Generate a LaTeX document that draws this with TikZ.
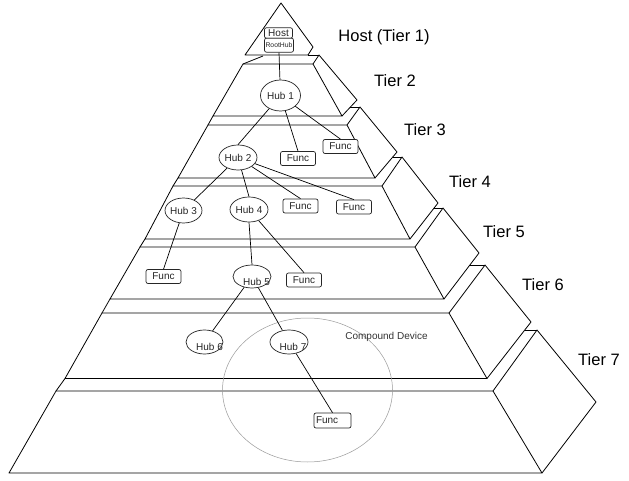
\documentclass[tikz,border=0pt]{standalone}
\usepackage{fontspec}
\setmainfont{Liberation Sans}
\usetikzlibrary{shapes.geometric}
\begin{document}
\begin{tikzpicture}[x=1pt,y=-1pt,
  edge/.style={line width=0.8pt, black, line join=round},
  conn/.style={line width=0.7pt, black},
  hub/.style={ellipse, draw=black!85, line width=0.7pt, inner sep=0pt, fill=white},
  hubtext/.style={font=\fontsize{10}{12}\selectfont, inner sep=0pt, text=black!85},
  func/.style={rectangle, rounded corners=2pt, draw=black!85, line width=0.7pt, inner sep=0pt,
    minimum width=35pt, minimum height=14pt, font=\fontsize{10}{12}\selectfont, fill=white, text=black!85},
  hostbox/.style={rectangle, rounded corners=2pt, draw=black!85, line width=0.7pt, inner sep=0pt, fill=white, text=black!85},
  tier/.style={font=\fontsize{16.5}{18}\selectfont, inner sep=0pt},
]
\useasboundingbox (0,0) rectangle (629,481);
\fill[white] (0,0) rectangle (629,481);

% Tier 1
\draw[edge] (245,55) -- (281,3) -- (313,47) -- (308,55) -- cycle;
% Tier 2
\draw[edge] (243,64) -- (313,64) -- (342,116) -- (213,116) -- cycle;
\draw[edge] (313,64) -- (319,55) -- (357,100) -- (342,116);
\draw[edge] (243,64) -- (263,56);
\draw[edge] (308,55) -- (319,55);
% Tier 3
\draw[edge] (208,125) -- (347,125) -- (375,178) -- (178,178) -- cycle;
\draw[edge] (347,125) -- (360,107) -- (397,152) -- (375,178);
\draw[edge] (208,125) -- (213,116);
\draw[edge] (350.4,107) -- (360,107);
% Tier 4
\draw[edge] (173,186) -- (382,186) -- (410,239) -- (145,239) -- cycle;
\draw[edge] (382,186) -- (402,157) -- (438,203) -- (410,239);
\draw[edge] (173,186) -- (178,178);
\draw[edge] (392.8,157) -- (402,157);
% Tier 5
\draw[edge] (140,247) -- (415,247) -- (444,299) -- (110,299) -- cycle;
\draw[edge] (415,247) -- (443,208) -- (479,253) -- (444,299);
\draw[edge] (140,247) -- (145,239);
\draw[edge] (434.1,208) -- (443,208);
% Tier 6
\draw[edge] (102,313) -- (449,313) -- (487,378.5) -- (65,378.5) -- cycle;
\draw[edge] (449,313) -- (485,265) -- (531,322) -- (487,378.5);
\draw[edge] (102,313) -- (110,299);
\draw[edge] (470,265) -- (485,265);
% Tier 7
\draw[edge] (56,391) -- (493,391) -- (542,473) -- (9,473) -- cycle;
\draw[edge] (493,391) -- (537,330) -- (596,402) -- (542,473);
\draw[edge] (56,391) -- (65,378.5);
\draw[edge] (524.7,330) -- (537,330);

% Tier labels
\node[tier] (t1) at (384,37) {Host (Tier 1)};
\node[tier] (t2) at (395,81) {Tier 2};
\node[tier] (t3) at (425,130) {Tier 3};
\node[tier] (t4) at (470,182) {Tier 4};
\node[tier] (t5) at (504,232) {Tier 5};
\node[tier] (t6) at (543,285) {Tier 6};
\node[tier] (t7) at (599,360) {Tier 7};

% Compound device
\node[ellipse, draw=black!40, line width=0.5pt, minimum width=170pt, minimum height=144pt, inner sep=0pt] (cd) at (307.5,390) {};
\node[font=\fontsize{10}{12}\selectfont, text=black!80, inner sep=0pt] (cdt) at (386.5,337) {Compound Device};

% Host
\node[hostbox, minimum width=28pt, minimum height=10.5pt, font=\fontsize{10}{10}\selectfont] (host) at (278.5,33) {Host};
\node[hostbox, minimum width=29pt, minimum height=14pt, font=\fontsize{6.8}{7}\selectfont] (root) at (279,45.2) {RootHub};

% Hubs
\node[hub, minimum width=40pt, minimum height=31pt] (hub1) at (280.5,95.5) {};
\node[hubtext] (hub1t) at (280.5,95.5) {Hub 1};
\node[hub, minimum width=38pt, minimum height=25pt] (hub2) at (238,157.5) {};
\node[hubtext] (hub2t) at (238,157.5) {Hub 2};
\node[hub, minimum width=37pt, minimum height=25pt] (hub3) at (183.5,210.5) {};
\node[hubtext] (hub3t) at (183.5,210.5) {Hub 3};
\node[hub, minimum width=38pt, minimum height=25pt] (hub4) at (249,209.5) {};
\node[hubtext] (hub4t) at (249,209.5) {Hub 4};
\node[hub, minimum width=38pt, minimum height=23pt] (hub5) at (252,276.5) {};
\node[hub, minimum width=37pt, minimum height=24pt] (hub6) at (204.5,342) {};
\node[hub, minimum width=38pt, minimum height=24pt] (hub7) at (289,342) {};

% Funcs
\node[func] (fa) at (298,158.5) {Func};
\node[func] (fb) at (340.5,146.5) {Func};
\node[func] (f4a) at (300.5,206) {Func};
\node[func] (f4b) at (354,207) {Func};
\node[func] (f5a) at (163.5,276.5) {Func};
\node[func] (f5b) at (304,280) {Func};
\node[func, minimum width=37pt, minimum height=15pt, text width=33pt, align=left] (f7) at (332.5,420.5) {Func};

% Connectors
\draw[conn] (root.south) -- (hub1);
\draw[conn] (hub1) -- (hub2.north);
\draw[conn] (hub1) -- (fa.north);
\draw[conn] (hub1) -- (fb.north);
\draw[conn] (hub2) -- (hub3);
\draw[conn] (hub2) -- (hub4.north);
\draw[conn] (hub2) -- (f4a.north);
\draw[conn] (hub2) -- (f4b.north);
\draw[conn] (hub3) -- (f5a.north);
\draw[conn] (hub4.south) -- (hub5.north);
\draw[conn] (hub4) -- (f5b.north);
\draw[conn] (hub5) -- (hub6);
\draw[conn] (hub5) -- (hub7);
\draw[conn] (hub7) -- (f7.north);

% Offset hub texts (drawn over the outlines, as in the picture)
\node[hubtext] (hub5t) at (256.5,281.7) {Hub 5};
\node[hubtext] (hub6t) at (209.5,346.7) {Hub 6};
\node[hubtext] (hub7t) at (293,346.7) {Hub 7};
\end{tikzpicture}
\end{document}
